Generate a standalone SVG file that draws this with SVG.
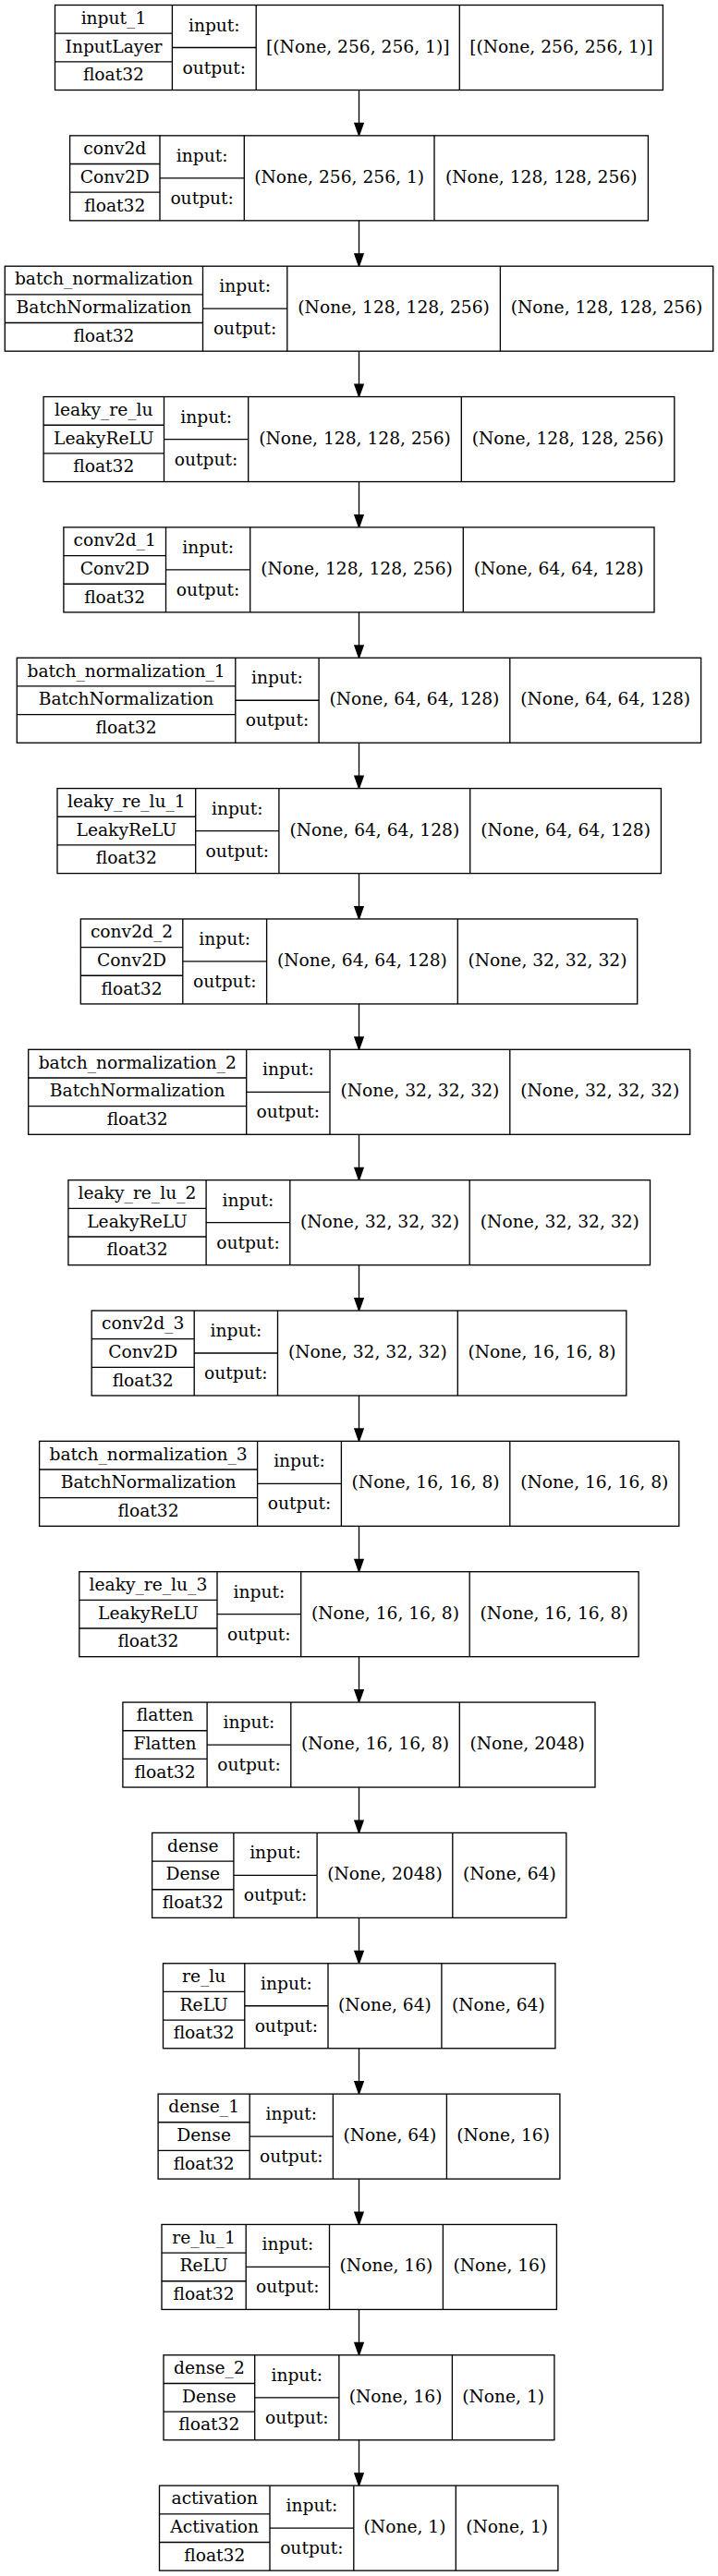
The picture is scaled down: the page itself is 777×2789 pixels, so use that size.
<svg xmlns="http://www.w3.org/2000/svg" width="777" height="2789" viewBox="0 0 777 2789">
<style>
.b{fill:#fff;stroke:#000;stroke-width:1.33}
.l{fill:none;stroke:#000;stroke-width:1.33}
.e{fill:none;stroke:#000;stroke-width:1.33;marker-end:url(#ah)}
text{font-family:"DejaVu Serif",serif;font-size:18.67px;text-anchor:middle;fill:#000}
</style>
<defs>
<marker id="ah" markerUnits="userSpaceOnUse" markerWidth="16" markerHeight="12" refX="0" refY="4.67" orient="auto" overflow="visible">
<path d="M0,0 L13.33,4.67 L0,9.33 Z" fill="#000" stroke="#000" stroke-width="1.33"/>
</marker>
</defs>
<rect x="0" y="0" width="777" height="2789" fill="#fff"/>
<g id="edges">
<path class="e" d="M388.5,97.5V133.52"/>
<path class="e" d="M388.5,238.85V274.87"/>
<path class="e" d="M388.5,380.2V416.22"/>
<path class="e" d="M388.5,521.55V557.57"/>
<path class="e" d="M388.5,662.9V698.92"/>
<path class="e" d="M388.5,804.25V840.27"/>
<path class="e" d="M388.5,945.6V981.62"/>
<path class="e" d="M388.5,1086.95V1122.97"/>
<path class="e" d="M388.5,1228.3V1264.32"/>
<path class="e" d="M388.5,1369.65V1405.67"/>
<path class="e" d="M388.5,1511V1547.02"/>
<path class="e" d="M388.5,1652.35V1688.37"/>
<path class="e" d="M388.5,1793.7V1829.72"/>
<path class="e" d="M388.5,1935.05V1971.07"/>
<path class="e" d="M388.5,2076.4V2112.42"/>
<path class="e" d="M388.5,2217.75V2253.77"/>
<path class="e" d="M388.5,2359.1V2395.12"/>
<path class="e" d="M388.5,2500.45V2536.47"/>
<path class="e" d="M388.5,2641.8V2677.82"/>
</g>
<g id="input_1" transform="translate(0,5.5)">
<rect class="b" x="59.5" y="0" width="657.9" height="92"/>
<path class="l" d="M59.5,30.67H186.4M59.5,61.33H186.4M186.4,0V92M186.4,46H277.2M277.2,0V92M497.3,0V92"/>
<text x="122.95" y="20.3">input_1</text><text x="122.95" y="51">InputLayer</text><text x="122.95" y="81.7">float32</text>
<text x="231.8" y="28">input:</text><text x="231.8" y="74">output:</text>
<text x="387.25" y="51">[(None, 256, 256, 1)]</text><text x="607.35" y="51">[(None, 256, 256, 1)]</text>
</g>
<g id="conv2d" transform="translate(0,146.85)">
<rect class="b" x="75.6" y="0" width="625.8" height="92"/>
<path class="l" d="M75.6,30.67H173M75.6,61.33H173M173,0V92M173,46H264.3M264.3,0V92M470,0V92"/>
<text x="124.3" y="20.3">conv2d</text><text x="124.3" y="51">Conv2D</text><text x="124.3" y="81.7">float32</text>
<text x="218.65" y="28">input:</text><text x="218.65" y="74">output:</text>
<text x="367.15" y="51">(None, 256, 256, 1)</text><text x="585.7" y="51">(None, 128, 128, 256)</text>
</g>
<g id="batch_normalization" transform="translate(0,288.2)">
<rect class="b" x="5.3" y="0" width="766.4" height="92"/>
<path class="l" d="M5.3,30.67H219.5M5.3,61.33H219.5M219.5,0V92M219.5,46H310.8M310.8,0V92M541.4,0V92"/>
<text x="112.4" y="20.3">batch_normalization</text><text x="112.4" y="51">BatchNormalization</text><text x="112.4" y="81.7">float32</text>
<text x="265.15" y="28">input:</text><text x="265.15" y="74">output:</text>
<text x="426.1" y="51">(None, 128, 128, 256)</text><text x="656.55" y="51">(None, 128, 128, 256)</text>
</g>
<g id="leaky_re_lu" transform="translate(0,429.55)">
<rect class="b" x="47.1" y="0" width="682.7" height="92"/>
<path class="l" d="M47.1,30.67H177.5M47.1,61.33H177.5M177.5,0V92M177.5,46H268.7M268.7,0V92M499.3,0V92"/>
<text x="112.3" y="20.3">leaky_re_lu</text><text x="112.3" y="51">LeakyReLU</text><text x="112.3" y="81.7">float32</text>
<text x="223.1" y="28">input:</text><text x="223.1" y="74">output:</text>
<text x="384" y="51">(None, 128, 128, 256)</text><text x="614.55" y="51">(None, 128, 128, 256)</text>
</g>
<g id="conv2d_1" transform="translate(0,570.9)">
<rect class="b" x="68.9" y="0" width="639.1" height="92"/>
<path class="l" d="M68.9,30.67H179.5M68.9,61.33H179.5M179.5,0V92M179.5,46H270.7M270.7,0V92M501.3,0V92"/>
<text x="124.2" y="20.3">conv2d_1</text><text x="124.2" y="51">Conv2D</text><text x="124.2" y="81.7">float32</text>
<text x="225.1" y="28">input:</text><text x="225.1" y="74">output:</text>
<text x="386" y="51">(None, 128, 128, 256)</text><text x="604.65" y="51">(None, 64, 64, 128)</text>
</g>
<g id="batch_normalization_1" transform="translate(0,712.25)">
<rect class="b" x="18.3" y="0" width="740.3" height="92"/>
<path class="l" d="M18.3,30.67H254.8M18.3,61.33H254.8M254.8,0V92M254.8,46H345.1M345.1,0V92M551.8,0V92"/>
<text x="136.55" y="20.3">batch_normalization_1</text><text x="136.55" y="51">BatchNormalization</text><text x="136.55" y="81.7">float32</text>
<text x="299.95" y="28">input:</text><text x="299.95" y="74">output:</text>
<text x="448.45" y="51">(None, 64, 64, 128)</text><text x="655.2" y="51">(None, 64, 64, 128)</text>
</g>
<g id="leaky_re_lu_1" transform="translate(0,853.6)">
<rect class="b" x="62" y="0" width="653.4" height="92"/>
<path class="l" d="M62,30.67H211.7M62,61.33H211.7M211.7,0V92M211.7,46H301.9M301.9,0V92M508.7,0V92"/>
<text x="136.85" y="20.3">leaky_re_lu_1</text><text x="136.85" y="51">LeakyReLU</text><text x="136.85" y="81.7">float32</text>
<text x="256.8" y="28">input:</text><text x="256.8" y="74">output:</text>
<text x="405.3" y="51">(None, 64, 64, 128)</text><text x="612.05" y="51">(None, 64, 64, 128)</text>
</g>
<g id="conv2d_2" transform="translate(0,994.95)">
<rect class="b" x="87.3" y="0" width="602.4" height="92"/>
<path class="l" d="M87.3,30.67H197.8M87.3,61.33H197.8M197.8,0V92M197.8,46H288.6M288.6,0V92M495.3,0V92"/>
<text x="142.55" y="20.3">conv2d_2</text><text x="142.55" y="51">Conv2D</text><text x="142.55" y="81.7">float32</text>
<text x="243.2" y="28">input:</text><text x="243.2" y="74">output:</text>
<text x="391.95" y="51">(None, 64, 64, 128)</text><text x="592.5" y="51">(None, 32, 32, 32)</text>
</g>
<g id="batch_normalization_2" transform="translate(0,1136.3)">
<rect class="b" x="30.7" y="0" width="716" height="92"/>
<path class="l" d="M30.7,30.67H266.7M30.7,61.33H266.7M266.7,0V92M266.7,46H357M357,0V92M551.8,0V92"/>
<text x="148.7" y="20.3">batch_normalization_2</text><text x="148.7" y="51">BatchNormalization</text><text x="148.7" y="81.7">float32</text>
<text x="311.85" y="28">input:</text><text x="311.85" y="74">output:</text>
<text x="454.4" y="51">(None, 32, 32, 32)</text><text x="649.25" y="51">(None, 32, 32, 32)</text>
</g>
<g id="leaky_re_lu_2" transform="translate(0,1277.65)">
<rect class="b" x="73.9" y="0" width="629.6" height="92"/>
<path class="l" d="M73.9,30.67H223.1M73.9,61.33H223.1M223.1,0V92M223.1,46H313.8M313.8,0V92M508.2,0V92"/>
<text x="148.5" y="20.3">leaky_re_lu_2</text><text x="148.5" y="51">LeakyReLU</text><text x="148.5" y="81.7">float32</text>
<text x="268.45" y="28">input:</text><text x="268.45" y="74">output:</text>
<text x="411" y="51">(None, 32, 32, 32)</text><text x="605.85" y="51">(None, 32, 32, 32)</text>
</g>
<g id="conv2d_3" transform="translate(0,1419)">
<rect class="b" x="99.2" y="0" width="578.6" height="92"/>
<path class="l" d="M99.2,30.67H210.2M99.2,61.33H210.2M210.2,0V92M210.2,46H300.5M300.5,0V92M495.3,0V92"/>
<text x="154.7" y="20.3">conv2d_3</text><text x="154.7" y="51">Conv2D</text><text x="154.7" y="81.7">float32</text>
<text x="255.35" y="28">input:</text><text x="255.35" y="74">output:</text>
<text x="397.9" y="51">(None, 32, 32, 32)</text><text x="586.55" y="51">(None, 16, 16, 8)</text>
</g>
<g id="batch_normalization_3" transform="translate(0,1560.35)">
<rect class="b" x="42.6" y="0" width="692.2" height="92"/>
<path class="l" d="M42.6,30.67H278.6M42.6,61.33H278.6M278.6,0V92M278.6,46H369.4M369.4,0V92M551.8,0V92"/>
<text x="160.6" y="20.3">batch_normalization_3</text><text x="160.6" y="51">BatchNormalization</text><text x="160.6" y="81.7">float32</text>
<text x="324" y="28">input:</text><text x="324" y="74">output:</text>
<text x="460.6" y="51">(None, 16, 16, 8)</text><text x="643.3" y="51">(None, 16, 16, 8)</text>
</g>
<g id="leaky_re_lu_3" transform="translate(0,1701.7)">
<rect class="b" x="85.8" y="0" width="605.3" height="92"/>
<path class="l" d="M85.8,30.67H235M85.8,61.33H235M235,0V92M235,46H325.7M325.7,0V92M508.2,0V92"/>
<text x="160.4" y="20.3">leaky_re_lu_3</text><text x="160.4" y="51">LeakyReLU</text><text x="160.4" y="81.7">float32</text>
<text x="280.35" y="28">input:</text><text x="280.35" y="74">output:</text>
<text x="416.95" y="51">(None, 16, 16, 8)</text><text x="599.65" y="51">(None, 16, 16, 8)</text>
</g>
<g id="flatten" transform="translate(0,1843.05)">
<rect class="b" x="132.9" y="0" width="511.1" height="92"/>
<path class="l" d="M132.9,30.67H224.1M132.9,61.33H224.1M224.1,0V92M224.1,46H314.8M314.8,0V92M497.3,0V92"/>
<text x="178.5" y="20.3">flatten</text><text x="178.5" y="51">Flatten</text><text x="178.5" y="81.7">float32</text>
<text x="269.45" y="28">input:</text><text x="269.45" y="74">output:</text>
<text x="406.05" y="51">(None, 16, 16, 8)</text><text x="570.65" y="51">(None, 2048)</text>
</g>
<g id="dense" transform="translate(0,1984.4)">
<rect class="b" x="164.6" y="0" width="448.2" height="92"/>
<path class="l" d="M164.6,30.67H252.9M164.6,61.33H252.9M252.9,0V92M252.9,46H343.1M343.1,0V92M489.8,0V92"/>
<text x="208.75" y="20.3">dense</text><text x="208.75" y="51">Dense</text><text x="208.75" y="81.7">float32</text>
<text x="298" y="28">input:</text><text x="298" y="74">output:</text>
<text x="416.45" y="51">(None, 2048)</text><text x="551.3" y="51">(None, 64)</text>
</g>
<g id="re_lu" transform="translate(0,2125.75)">
<rect class="b" x="176.5" y="0" width="424.4" height="92"/>
<path class="l" d="M176.5,30.67H264.8M176.5,61.33H264.8M264.8,0V92M264.8,46H355M355,0V92M477.9,0V92"/>
<text x="220.65" y="20.3">re_lu</text><text x="220.65" y="51">ReLU</text><text x="220.65" y="81.7">float32</text>
<text x="309.9" y="28">input:</text><text x="309.9" y="74">output:</text>
<text x="416.45" y="51">(None, 64)</text><text x="539.4" y="51">(None, 64)</text>
</g>
<g id="dense_1" transform="translate(0,2267.1)">
<rect class="b" x="171.1" y="0" width="434.8" height="92"/>
<path class="l" d="M171.1,30.67H270.2M171.1,61.33H270.2M270.2,0V92M270.2,46H360.4M360.4,0V92M483.4,0V92"/>
<text x="220.65" y="20.3">dense_1</text><text x="220.65" y="51">Dense</text><text x="220.65" y="81.7">float32</text>
<text x="315.3" y="28">input:</text><text x="315.3" y="74">output:</text>
<text x="421.9" y="51">(None, 64)</text><text x="544.65" y="51">(None, 16)</text>
</g>
<g id="re_lu_1" transform="translate(0,2408.45)">
<rect class="b" x="175" y="0" width="427.4" height="92"/>
<path class="l" d="M175,30.67H266.2M175,61.33H266.2M266.2,0V92M266.2,46H356.5M356.5,0V92M479.4,0V92"/>
<text x="220.6" y="20.3">re_lu_1</text><text x="220.6" y="51">ReLU</text><text x="220.6" y="81.7">float32</text>
<text x="311.35" y="28">input:</text><text x="311.35" y="74">output:</text>
<text x="417.95" y="51">(None, 16)</text><text x="540.9" y="51">(None, 16)</text>
</g>
<g id="dense_2" transform="translate(0,2549.8)">
<rect class="b" x="177" y="0" width="422.9" height="92"/>
<path class="l" d="M177,30.67H275.7M177,61.33H275.7M275.7,0V92M275.7,46H366.9M366.9,0V92M489.4,0V92"/>
<text x="226.35" y="20.3">dense_2</text><text x="226.35" y="51">Dense</text><text x="226.35" y="81.7">float32</text>
<text x="321.3" y="28">input:</text><text x="321.3" y="74">output:</text>
<text x="428.15" y="51">(None, 16)</text><text x="544.65" y="51">(None, 1)</text>
</g>
<g id="activation" transform="translate(0,2691.15)">
<rect class="b" x="172.5" y="0" width="431.4" height="92"/>
<path class="l" d="M172.5,30.67H292M172.5,61.33H292M292,0V92M292,46H382.8M382.8,0V92M493.3,0V92"/>
<text x="232.25" y="20.3">activation</text><text x="232.25" y="51">Activation</text><text x="232.25" y="81.7">float32</text>
<text x="337.4" y="28">input:</text><text x="337.4" y="74">output:</text>
<text x="438.05" y="51">(None, 1)</text><text x="548.6" y="51">(None, 1)</text>
</g>
</svg>
